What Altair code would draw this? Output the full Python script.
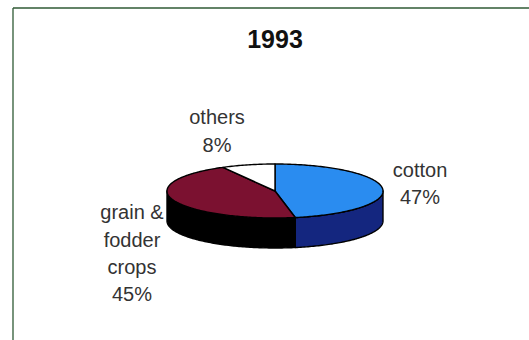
import altair as alt
import numpy as np

# Crop shares for 1993
parts = ["cotton", "grain & fodder crops", "others"]
shares = [47, 45, 8]
top_colors = ["#2a8cf0", "#7b1130", "#ffffff"]
wall_colors = ["#14267f", "#000000", "#000000"]

TITLE = "1993"
RX_PX = 108
ASPECT = 0.25
DEPTH = 30 / RX_PX


def rim(a, b, drop=0.0):
    """Points along the elliptical rim between two clockwise angles from 12 o'clock."""
    angles = np.radians(np.linspace(a, b, max(2, int(abs(b - a)) + 1)))
    return [[float(np.sin(t)), float(ASPECT * np.cos(t) - drop)] for t in angles]


def feature(kind, ring):
    ring = ring + [ring[0]]
    return {
        "type": "Feature",
        "properties": {"kind": kind},
        "geometry": {"type": "Polygon", "coordinates": [ring]},
    }


edges = np.cumsum([0] + shares) * 3.6
walls, tops = [], []
for i, part in enumerate(parts):
    a, b = float(edges[i]), float(edges[i + 1])
    tops.append(feature(part, [[0.0, 0.0]] + rim(a, b)))
    # Only the front half of the rim (90 to 270 degrees) shows a side wall
    lo, hi = max(a, 90.0), min(b, 270.0)
    if lo < hi:
        walls.append(feature(part + " wall", rim(lo, hi) + rim(hi, lo, DEPTH)))

domain = [p + " wall" for p in parts] + parts
color_range = wall_colors + top_colors


def pie_layer(features):
    return (
        alt.Chart(alt.Data(values=features))
        .mark_geoshape(stroke="#000000", strokeWidth=1.4, strokeJoin="round")
        .encode(color=alt.Color("properties.kind:N", scale=alt.Scale(domain=domain, range=color_range), legend=None))
        .project(type="identity", scale=RX_PX, translate=[275, 191], reflectY=True)
    )


def text_block(lines, x, ys, size=20, weight="normal", color="#333333"):
    layers = []
    for line, y in zip(lines, ys):
        layers.append(
            alt.Chart(alt.Data(values=[{"t": line}]))
            .mark_text(font="Liberation Sans", fontSize=size, fontWeight=weight, color=color, align="center", baseline="middle")
            .encode(text="t:N", x=alt.value(x), y=alt.value(y))
        )
    return layers


frame_color = "#2f5a35"
frame = [
    alt.Chart(alt.Data(values=[{"a": 0}])).mark_rule(color=frame_color, strokeWidth=1.3)
    .encode(x=alt.value(13), x2=alt.value(529), y=alt.value(8)),
    alt.Chart(alt.Data(values=[{"a": 0}])).mark_rule(color=frame_color, strokeWidth=1.3)
    .encode(x=alt.value(13), y=alt.value(8), y2=alt.value(340)),
]

labels = (
    text_block([TITLE], 275, [40], size=25, weight="bold", color="#111111")
    + text_block(["others", f"{shares[2]}%"], 217, [118, 146])
    + text_block(["cotton", f"{shares[0]}%"], 420, [171, 198])
    + text_block(["grain &", "fodder", "crops", f"{shares[1]}%"], 132, [213, 241, 268, 295])
)

chart = alt.layer(*frame, pie_layer(walls), pie_layer(tops), *labels).properties(
    width=529,
    height=340,
    padding=0,
    autosize=alt.AutoSizeParams(type="none"),
    background="#ffffff",
).configure_view(stroke=None)

chart.save("out.html", embed_options={"renderer": "svg", "actions": False})
